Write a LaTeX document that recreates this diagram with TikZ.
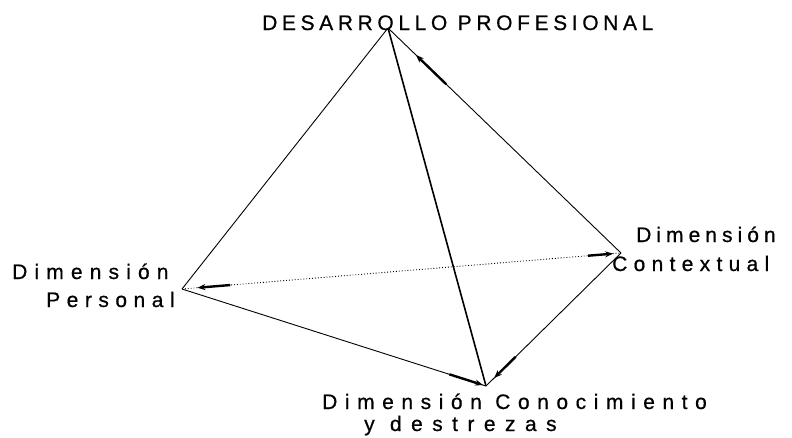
\documentclass[tikz,border=0pt]{standalone}
\usepackage{fontspec}
\setmainfont{Liberation Sans}[FakeBold=0.6]
\usetikzlibrary{calc,arrows.meta}
\newcommand{\lsp}[1]{\addfontfeatures{LetterSpace=#1}}
\begin{document}
\begin{tikzpicture}[x=1pt,y=-1pt,
  edge/.style={line width=0.9pt},
  heavy/.style={line width=1.6pt},
  dots/.style={line width=0.9pt,dotted},
  arr/.style={line width=2.4pt,-{Stealth[length=8pt,width=6pt]}},
  lbl/.style={font=\fontsize{21}{21}\selectfont,inner sep=0pt,align=center}]
\useasboundingbox (0,0) rectangle (792,437);
\coordinate (T) at (388,28);
\coordinate (P) at (182,289);
\coordinate (C) at (621,253);
\coordinate (K) at (486,386);
\draw[edge] (T) -- (P);
\draw[edge] (T) -- (C);
\draw[heavy] (T) -- (K);
\draw[edge] (P) -- (K);
\draw[edge] (K) -- (C);
\draw[dots] (P) -- (C);
\draw[arr] ($(P)!0.11!(C)$) -- ($(P)!0.035!(C)$);
\draw[arr] ($(C)!0.075!(P)$) -- ($(C)!0.018!(P)$);
\draw[arr] ($(T)!0.25!(C)$) -- ($(T)!0.12!(C)$);
\draw[arr] ($(K)!0.12!(P)$) -- ($(K)!0.01!(P)$);
\draw[arr] ($(K)!0.22!(C)$) -- ($(K)!0.06!(C)$);
\node[lbl,anchor=base west] (tl) at (262,30) {\lsp{22}DESARROLLO PROFESIONAL};
\node[lbl,anchor=base west] (pl1) at (12,279) {\lsp{34}Dimensión};
\node[lbl,anchor=base west] (pl2) at (46,307) {\lsp{31}Personal};
\node[lbl,anchor=base west] (cl1) at (636,242) {\lsp{24}Dimensión};
\node[lbl,anchor=base west] (cl2) at (612,271) {\lsp{30}Contextual};
\node[lbl,anchor=base west] (kl1) at (322,409) {\lsp{36}Dimensión Conocimiento};
\node[lbl,anchor=base west] (kl2) at (364,431) {\lsp{45}y destrezas};
\end{tikzpicture}
\end{document}
